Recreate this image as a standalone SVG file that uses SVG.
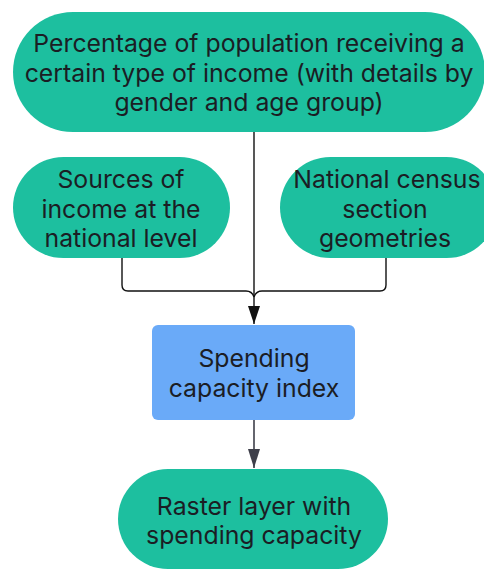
<svg xmlns="http://www.w3.org/2000/svg" width="484" height="570" viewBox="0 0 484 570">
  <style>
    .pill { fill: #1dbf9f; }
    .box { fill: #6aaaf8; }
    .label { font-family: Inter, "Liberation Sans", sans-serif; font-size: 24.8px; fill: #1b1d24; text-anchor: middle; }
    .wire { fill: none; stroke: #111111; stroke-width: 1.4; }
    .wire-dark { fill: none; stroke: #3e3f4a; stroke-width: 1.6; }
  </style>
  <defs>
    <!-- arrowheads drawn along +x so orient="auto" points them down the line -->
    <marker id="head" viewBox="0 0 18 12" markerWidth="18" markerHeight="12" refX="18" refY="6" orient="auto" markerUnits="userSpaceOnUse">
      <path d="M0,0 L18,6 L0,12 Z" fill="#111111"/>
    </marker>
    <marker id="head-dark" viewBox="0 0 19 12" markerWidth="19" markerHeight="12" refX="19" refY="6" orient="auto" markerUnits="userSpaceOnUse">
      <path d="M0,0 L19,6 L0,12 Z" fill="#3e3f4a"/>
    </marker>
  </defs>

  <rect width="484" height="570" fill="#ffffff"/>

  <!-- connectors -->
  <g id="connectors">
    <path class="wire" d="M254,132 V324" marker-end="url(#head)"/>
    <path class="wire" d="M122,258 V285 Q122,291 128,291 H246 Q252,291 254,297"/>
    <path class="wire" d="M386,258 V285 Q386,291 380,291 H262 Q256,291 254,297"/>
    <path class="wire-dark" d="M254,420 V468" marker-end="url(#head-dark)"/>
  </g>

  <!-- nodes -->
  <g id="population-income">
    <rect class="pill" x="13" y="12" width="472" height="120" rx="60"/>
    <text class="label" x="249" y="52">Percentage of population receiving a</text>
    <text class="label" x="249" y="82">certain type of income (with details by</text>
    <text class="label" x="249" y="111">gender and age group)</text>
  </g>

  <g id="national-income">
    <rect class="pill" x="13" y="157" width="217" height="101" rx="50.5"/>
    <text class="label" x="121" y="188">Sources of</text>
    <text class="label" x="121" y="218">income at the</text>
    <text class="label" x="121" y="247">national level</text>
  </g>

  <g id="census-geometries">
    <rect class="pill" x="280" y="157" width="217" height="101" rx="50.5"/>
    <text class="label" x="387" y="188">National census</text>
    <text class="label" x="385" y="218">section</text>
    <text class="label" x="385" y="247">geometries</text>
  </g>

  <g id="spending-index">
    <rect class="box" x="152" y="325" width="203" height="95" rx="6"/>
    <text class="label" x="254" y="367">Spending</text>
    <text class="label" x="254" y="397">capacity index</text>
  </g>

  <g id="raster-layer">
    <rect class="pill" x="118" y="469" width="270" height="100" rx="50"/>
    <text class="label" x="254" y="515">Raster layer with</text>
    <text class="label" x="254" y="544">spending capacity</text>
  </g>
</svg>
